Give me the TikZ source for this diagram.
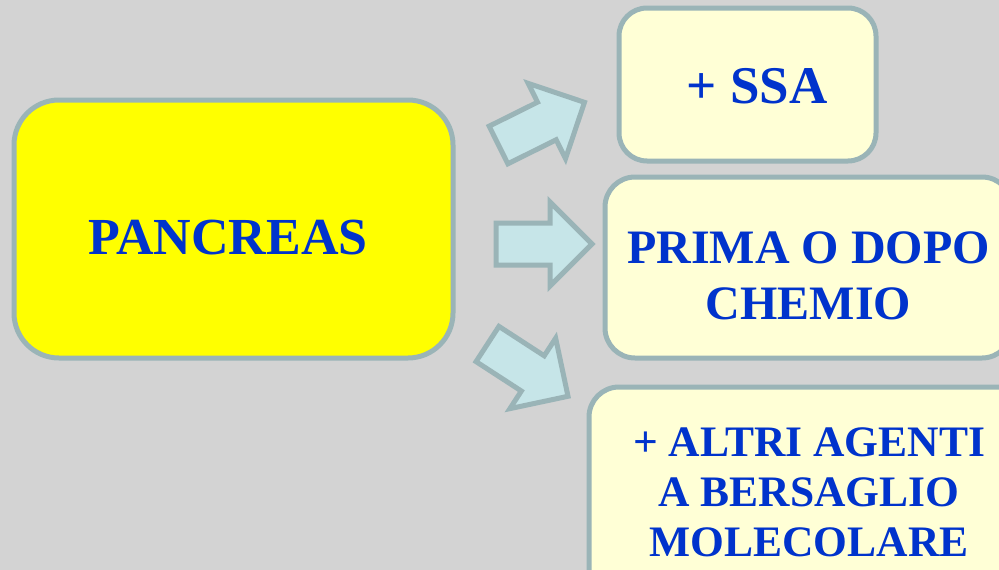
\documentclass[tikz,border=0pt]{standalone}
\usepackage{fontspec}
\setmainfont{Liberation Serif}

\definecolor{bg}{RGB}{211,211,211}
\definecolor{rim}{RGB}{154,180,183}
\definecolor{arrowfill}{RGB}{198,229,232}
\definecolor{cream}{RGB}{255,255,214}
\definecolor{lemon}{RGB}{255,255,0}
\definecolor{ink}{RGB}{0,51,204}

\tikzset{
  panel/.style={draw=rim, line width=5pt, rounded corners=#1, inner sep=0pt},
  caption/.style={text=ink, align=center, inner sep=0pt},
  blockarrow/.pic={
    \draw[draw=rim, fill=arrowfill, line width=5pt, line join=miter]
      (0,21) -- (54,21) -- (54,42) -- (96,0) -- (54,-42) -- (54,-21) -- (0,-21) -- cycle;
  }
}

\begin{document}
\begin{tikzpicture}[x=1pt, y=-1pt]
  % canvas
  \fill[bg] (0,0) rectangle (999,570);
  \useasboundingbox (0,0) rectangle (999,570);

  % source box
  \node[panel=45pt, fill=lemon, minimum width=439pt, minimum height=258pt] (pancreas) at (233.5,229) {};
  \node[caption, font=\bfseries\fontsize{52}{60}\selectfont] (pancreasText) at (228,238) {PANCREAS};

  % target boxes
  \node[panel=28pt, fill=cream, minimum width=257pt, minimum height=153pt] (ssa) at (747.5,84.5) {};
  \node[caption, font=\bfseries\fontsize{53}{60}\selectfont] (ssaText) at (757,86) {+ SSA};

  \node[panel=30pt, fill=cream, minimum width=407pt, minimum height=181pt] (chemio) at (808.5,267.5) {};
  \node[caption, font=\bfseries\fontsize{48}{56}\selectfont] (chemioText) at (808.5,276) {PRIMA O DOPO\\CHEMIO};

  \node[panel=30pt, fill=cream, minimum width=440pt, minimum height=210pt] (agenti) at (809,492) {};
  \node[caption, font=\bfseries\fontsize{43.5}{50}\selectfont] (agentiText) at (809,492.5) {+ ALTRI AGENTI\\A BERSAGLIO\\MOLECOLARE};

  % block arrows
  \pic[rotate=26.4] at (498.5,145) {blockarrow};
  \pic at (496,244) {blockarrow};
  \pic[rotate=-33] at (487.5,344) {blockarrow};
\end{tikzpicture}
\end{document}
